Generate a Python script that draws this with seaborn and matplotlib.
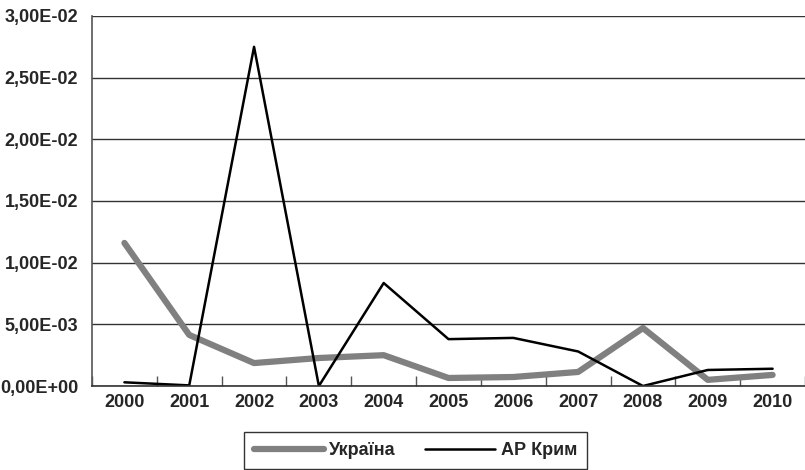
import numpy as np
import pandas as pd
import matplotlib
matplotlib.use('Agg')
import matplotlib.pyplot as plt
import seaborn as sns
from matplotlib.ticker import FuncFormatter, FixedLocator

years = ['2000', '2001', '2002', '2003', '2004', '2005',
         '2006', '2007', '2008', '2009', '2010']
ukraine = [0.0116, 0.00414, 0.00186, 0.00227, 0.0025, 0.00065,
           0.00073, 0.00114, 0.0047, 0.0005, 0.0009]
crimea = [0.0003, 0.00005, 0.0275, 0.0, 0.00835, 0.0038,
          0.0039, 0.0028, 0.0, 0.0013, 0.0014]
series_names = ['Україна', 'АР Крим']

sns.set_theme(style='white')
plt.rcParams['font.family'] = ['Liberation Sans Narrow', 'Liberation Sans', 'DejaVu Sans']
plt.rcParams['font.weight'] = 'bold'

df = pd.DataFrame({'year': years + years,
                   'value': ukraine + crimea,
                   'series': [series_names[0]] * len(years) + [series_names[1]] * len(years)})

fig = plt.figure(figsize=(8.05, 4.70), dpi=100)
ax = fig.add_axes([0.1143, 0.1787, 0.8857, 0.7873])

sns.lineplot(data=df, x='year', y='value', hue='series', size='series',
             palette={series_names[0]: '#808080', series_names[1]: '#000000'},
             sizes={series_names[0]: 4.5, series_names[1]: 1.8},
             sort=False, ax=ax, legend=False)

ax.set_xlim(-0.5, len(years) - 0.5)
ax.set_ylim(0, 0.03)
ax.set_yticks(np.arange(0, 0.0301, 0.005))
ax.yaxis.set_major_formatter(FuncFormatter(lambda v, p: ('%.2E' % v).replace('.', ',')))
ax.yaxis.grid(True, color='#333333', linewidth=1)
ax.set_axisbelow(True)

ax.xaxis.set_minor_locator(FixedLocator(np.arange(-0.5, len(years), 1.0)))
ax.tick_params(axis='x', which='major', length=0, pad=6)
ax.tick_params(axis='x', which='minor', length=7, direction='in', color='#555555', width=1, bottom=True)
ax.tick_params(axis='y', length=0, pad=10)
for lab in ax.get_xticklabels() + ax.get_yticklabels():
    lab.set_fontsize(13)
    lab.set_fontweight('bold')

ax.set_xlabel('')
ax.set_ylabel('')
for s in ['top', 'right']:
    ax.spines[s].set_visible(False)
ax.spines['left'].set_color('#555555')
ax.spines['bottom'].set_color('#333333')
ax.spines['left'].set_linewidth(1.2)
ax.spines['bottom'].set_linewidth(1.2)

handles = [plt.Line2D([], [], color='#808080', lw=4.5, solid_capstyle='round'),
           plt.Line2D([], [], color='#000000', lw=1.8)]
leg = fig.legend(handles, series_names, loc='upper center', bbox_to_anchor=(0.516, 0.081),
                 borderaxespad=0, ncol=2, frameon=True, fancybox=False,
                 handlelength=3.9, handletextpad=0.3, columnspacing=1.6,
                 borderpad=0.55, prop={'size': 13, 'weight': 'bold'})
leg.get_frame().set_edgecolor('black')
leg.get_frame().set_linewidth(1.0)

fig.savefig('out.png', dpi=100)
